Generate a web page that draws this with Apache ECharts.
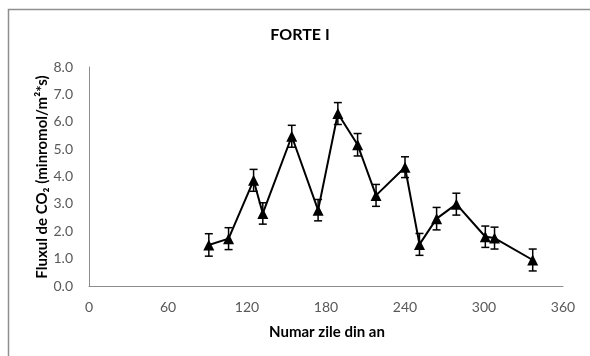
<!DOCTYPE html>
<html>
<head>
<meta charset="utf-8">
<script src="https://cdn.jsdelivr.net/npm/echarts@6/dist/echarts.min.js"></script>
<style>
html,body{margin:0;padding:0;background:#fff;}
#chart{width:590px;height:356px;}
</style>
</head>
<body>
<div id="chart"></div>
<script>
// Day of year (x), CO2 flux (y) and error (+/-)
const days = [91, 106, 125, 132, 154, 174, 189, 204, 218, 240, 251, 264, 279, 301, 308, 337];
const flux = [1.50, 1.73, 3.86, 2.65, 5.47, 2.77, 6.30, 5.16, 3.31, 4.34, 1.52, 2.46, 2.99, 1.80, 1.75, 0.95];
const errs = [0.41, 0.40, 0.40, 0.39, 0.40, 0.39, 0.40, 0.41, 0.40, 0.38, 0.40, 0.41, 0.40, 0.39, 0.40, 0.40];
const xTicks = [0, 60, 120, 180, 240, 300, 360];
const yTicks = [0, 1, 2, 3, 4, 5, 6, 7, 8];

const titleText = 'FORTE I';
const xTitle = 'Numar zile din an';
const yTitle = 'Fluxul de CO\u2082 (minromol/m\u00b2*s)';

const FONT = 'Lato, "Open Sans", "Liberation Sans", sans-serif';

const lineData = days.map((d, i) => [d, flux[i]]);
const errData = days.map((d, i) => [d, flux[i] - errs[i], flux[i] + errs[i]]);

const chart = echarts.init(document.getElementById('chart'), null, {renderer: 'canvas'});
chart.setOption({
  animation: false,
  backgroundColor: '#ffffff',
  grid: {left: 89, right: 27, top: 67, bottom: 70, containLabel: false},
  xAxis: {
    type: 'value',
    min: xTicks[0], max: xTicks[xTicks.length - 1], interval: 60,
    axisLine: {show: true, lineStyle: {color: '#8c8c8c', width: 1}},
    axisTick: {show: false},
    splitLine: {show: false},
    axisLabel: {color: '#595959', fontSize: 14, fontFamily: FONT, margin: 14}
  },
  yAxis: {
    type: 'value',
    min: yTicks[0], max: yTicks[yTicks.length - 1], interval: 1,
    axisLine: {show: true, lineStyle: {color: '#8c8c8c', width: 1}},
    axisTick: {show: false},
    splitLine: {show: false},
    axisLabel: {color: '#595959', fontSize: 14, fontFamily: FONT, margin: 16,
      formatter: v => v.toFixed(1)}
  },
  graphic: [
    {type: 'rect', silent: true, z: -10,
      shape: {x: 8.5, y: 9.5, width: 700, height: 500},
      style: {fill: null, stroke: '#8f8f8f', lineWidth: 1.5}},
    {type: 'text', x: 300, y: 35,
      style: {text: titleText, textAlign: 'center', textVerticalAlign: 'middle',
        font: 'bold 16px ' + FONT, fill: '#000'}},
    {type: 'text', x: 327, y: 332,
      style: {text: xTitle, textAlign: 'center', textVerticalAlign: 'middle',
        font: 'bold 15px ' + FONT, fill: '#000'}},
    {type: 'text', x: 42, y: 177, rotation: Math.PI / 2,
      style: {text: yTitle, textAlign: 'center', textVerticalAlign: 'middle',
        font: 'bold 15px ' + FONT, fill: '#000'}}
  ],
  series: [
    {
      type: 'line',
      data: lineData,
      symbol: 'triangle',
      symbolSize: 11,
      lineStyle: {color: '#000', width: 2},
      itemStyle: {color: '#000'},
      z: 2
    },
    {
      type: 'custom',
      data: errData,
      z: 3,
      renderItem: function (params, api) {
        const x = api.value(0);
        const lo = api.coord([x, api.value(1)]);
        const hi = api.coord([x, api.value(2)]);
        const w = 4;
        const st = {stroke: '#000', lineWidth: 1.5};
        return {
          type: 'group',
          children: [
            {type: 'line', shape: {x1: hi[0], y1: hi[1], x2: lo[0], y2: lo[1]}, style: st},
            {type: 'line', shape: {x1: hi[0] - w, y1: hi[1], x2: hi[0] + w, y2: hi[1]}, style: st},
            {type: 'line', shape: {x1: lo[0] - w, y1: lo[1], x2: lo[0] + w, y2: lo[1]}, style: st}
          ]
        };
      }
    }
  ]
});
</script>
</body>
</html>
